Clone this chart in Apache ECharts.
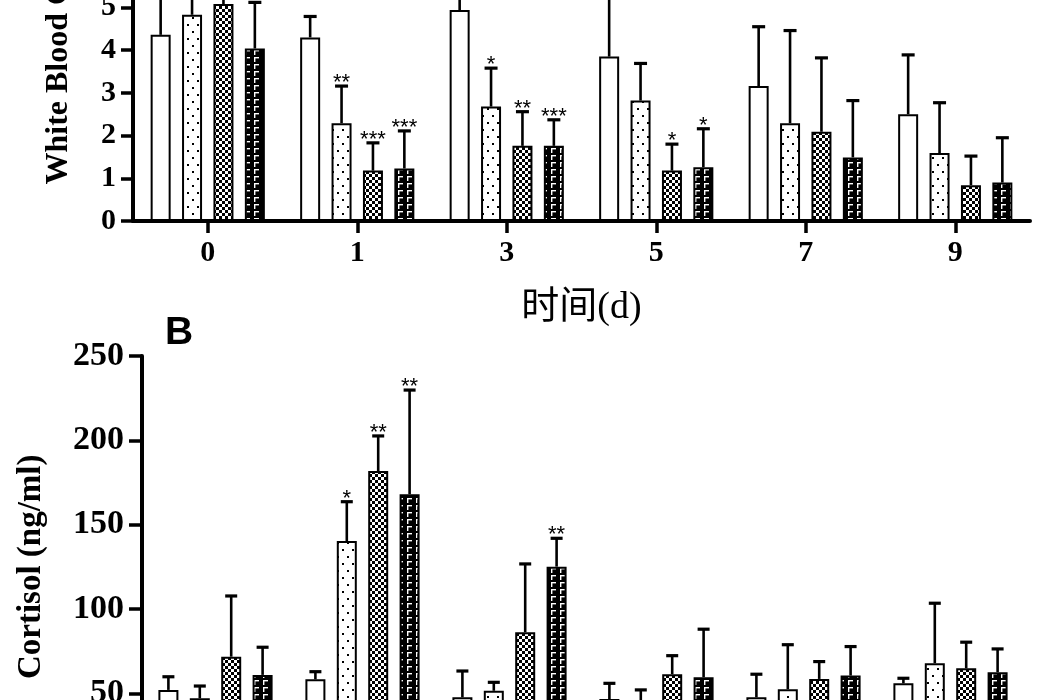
<!DOCTYPE html>
<html>
<head>
<meta charset="utf-8">
<script src="https://cdn.jsdelivr.net/npm/echarts@6/dist/echarts.min.js"></script>
<style>html,body{margin:0;padding:0;background:#fff;}#c{width:1049px;height:700px;}</style>
</head>
<body>
<div id="c"></div>
<script>
// ---- data ----
const days = ['0', '1', '3', '5', '7', '9'];
const groupNames = ['Group 1', 'Group 2', 'Group 3', 'Group 4'];

// Panel A: White Blood Cell (mean, upper error)
const wbcMean1 = [4.36, 4.30, 4.94, 3.85, 3.16, 2.50];
const wbcErr1  = [1.54, 0.49, 0.66, 1.65, 1.39, 1.39];
const wbcMean2 = [4.83, 2.29, 2.68, 2.82, 2.29, 1.59];
const wbcErr2  = [0.77, 0.87, 0.90, 0.87, 2.17, 1.18];
const wbcMean3 = [5.08, 1.18, 1.76, 1.18, 2.09, 0.84];
const wbcErr3  = [0.42, 0.65, 0.80, 0.62, 1.73, 0.68];
const wbcMean4 = [4.04, 1.23, 1.76, 1.26, 1.49, 0.90];
const wbcErr4  = [1.08, 0.88, 0.61, 0.90, 1.33, 1.05];
const wbcStars1 = ['', '', '', '', '', ''];
const wbcStars2 = ['', '**', '*', '', '', ''];
const wbcStars3 = ['', '***', '**', '*', '', ''];
const wbcStars4 = ['', '***', '***', '*', '', ''];

// Panel B: Cortisol (ng/ml)
const corMean1 = [52.0, 58.3, 47.6, 46.6, 47.6, 55.9];
const corErr1  = [7.8, 4.5, 15.6, 9.3, 13.7, 3.0];
const corMean2 = [47.0, 140.3, 51.5, 43.0, 52.4, 67.8];
const corErr2  = [7.3, 23.3, 5.0, 9.0, 26.4, 35.6];
const corMean3 = [71.7, 181.8, 86.2, 61.3, 58.5, 64.8];
const corErr3  = [36.0, 20.8, 40.5, 11.0, 10.3, 15.5];
const corMean4 = [60.9, 168.0, 125.1, 59.5, 60.5, 62.5];
const corErr4  = [16.4, 61.8, 16.8, 28.5, 17.2, 13.8];
const corStars1 = ['', '', '', '', '', ''];
const corStars2 = ['', '*', '', '', '', ''];
const corStars3 = ['', '**', '', '', '', ''];
const corStars4 = ['', '**', '**', '', '', ''];

const wbcTicks = [0, 10, 1];   // min, max, interval
const corTicks = [0, 250, 50];

// ---- patterns ----
function tile(w, h, draw) {
  const c = document.createElement('canvas');
  c.width = w; c.height = h;
  const g = c.getContext('2d');
  draw(g);
  return { image: c, repeat: 'repeat' };
}
const patWhite = '#ffffff';
const patDots = tile(10, 14, g => {
  g.fillStyle = '#fff'; g.fillRect(0, 0, 10, 14);
  g.fillStyle = '#000'; g.fillRect(2, 3, 2, 2); g.fillRect(7, 10, 2, 2);
});
const patCheck = tile(6, 6, g => {
  g.fillStyle = '#000'; g.fillRect(0, 0, 6, 6);
  g.fillStyle = '#fff'; g.fillRect(0, 0, 3, 3); g.fillRect(3, 3, 3, 3);
});
const patBrick = tile(9, 7, g => {
  g.fillStyle = '#000'; g.fillRect(0, 0, 9, 7);
  g.fillStyle = '#fff'; g.fillRect(2, 1, 5, 1.4); g.fillRect(2, 1, 1.4, 5);
});
const patterns = [patWhite, patDots, patCheck, patBrick];

const BAR_W = 20, BAR_GAP = 0.57;
const STEP = BAR_W * (1 + BAR_GAP);
const serifFont = '"Liberation Serif", "Times New Roman", serif';

function barSeries(k, data, axis) {
  return {
    type: 'bar', name: groupNames[k], data: data,
    xAxisIndex: axis, yAxisIndex: axis,
    barWidth: BAR_W, barGap: (BAR_GAP * 100) + '%',
    itemStyle: { color: patterns[k], borderColor: '#000', borderWidth: 2 },
    z: 3, silent: true
  };
}
function errSeries(k, means, errs, stars, axis, capW) {
  return {
    type: 'custom', xAxisIndex: axis, yAxisIndex: axis, z: 2, silent: true, clip: false,
    data: means.map((m, i) => [i, m, errs[i]]),
    renderItem: function (params, api) {
      const base = api.coord([api.value(0), api.value(1)]);
      const top = api.coord([api.value(0), api.value(1) + api.value(2)]);
      const x = base[0] + (k - 1.5) * STEP;
      const st = { stroke: '#000', lineWidth: 2.6 };
      const children = [
        { type: 'line', shape: { x1: x, y1: base[1], x2: x, y2: top[1] }, style: st },
        { type: 'line', shape: { x1: x - capW / 2, y1: top[1], x2: x + capW / 2, y2: top[1] }, style: { stroke: '#000', lineWidth: 3.2 } }
      ];
      const s = stars[params.dataIndex];
      if (s) {
        children.push({ type: 'text', style: { text: s, x: x, y: top[1] + 8, align: 'center', verticalAlign: 'bottom',
          font: '22px "Liberation Sans", Arial, sans-serif', fill: '#000' } });
      }
      return { type: 'group', children: children };
    }
  };
}

const axisLineStyle = { show: true, lineStyle: { color: '#000', width: 4 } };
const tickStyle = { show: true, length: 12, lineStyle: { color: '#000', width: 3.5 } };

const option = {
  backgroundColor: '#fff',
  animation: false,
  title: { text: 'B', left: 160, top: 309, textStyle: { fontFamily: '"Liberation Sans", Arial, sans-serif', fontWeight: 'bold', fontSize: 39, color: '#000' } },
  grid: [
    { left: 133, right: 19, top: -206, bottom: 479, containLabel: false, outerBoundsMode: 'none' },
    { left: 142, right: 25, top: 356, bottom: -77.6, containLabel: false, outerBoundsMode: 'none' }
  ],
  xAxis: [
    { type: 'category', gridIndex: 0, data: days, axisLine: axisLineStyle,
      axisTick: Object.assign({ alignWithLabel: true }, tickStyle),
      axisLabel: { margin: 17, fontFamily: serifFont, fontWeight: 'bold', fontSize: 30, color: '#000' },
      name: '时间(d)', nameLocation: 'middle', nameGap: 68,
      nameTextStyle: { fontFamily: '"Liberation Serif", "Noto Sans CJK SC", serif', fontSize: 38, color: '#000' } },
    { type: 'category', gridIndex: 1, data: days, axisLine: axisLineStyle,
      axisTick: Object.assign({ alignWithLabel: true }, tickStyle),
      axisLabel: { margin: 17, fontFamily: serifFont, fontWeight: 'bold', fontSize: 30, color: '#000' } }
  ],
  yAxis: [
    { type: 'value', gridIndex: 0, min: wbcTicks[0], max: wbcTicks[1], interval: wbcTicks[2],
      axisLine: axisLineStyle, axisTick: tickStyle, splitLine: { show: false },
      axisLabel: { margin: 17, fontFamily: serifFont, fontWeight: 'bold', fontSize: 30, color: '#000' },
      name: 'White Blood Cell (×10⁹/L)', nameLocation: 'middle', nameGap: 52,
      nameTextStyle: { fontFamily: serifFont, fontWeight: 'bold', fontSize: 32, color: '#000' } },
    { type: 'value', gridIndex: 1, min: corTicks[0], max: corTicks[1], interval: corTicks[2],
      axisLine: axisLineStyle, axisTick: Object.assign({}, tickStyle, { length: 13 }), splitLine: { show: false },
      axisLabel: { margin: 18, fontFamily: serifFont, fontWeight: 'bold', fontSize: 34, color: '#000' },
      name: 'Cortisol (ng/ml)', nameLocation: 'middle', nameGap: 94,
      nameTextStyle: { fontFamily: serifFont, fontWeight: 'bold', fontSize: 33, color: '#000' } }
  ],
  series: [
    barSeries(0, wbcMean1, 0), barSeries(1, wbcMean2, 0), barSeries(2, wbcMean3, 0), barSeries(3, wbcMean4, 0),
    errSeries(0, wbcMean1, wbcErr1, wbcStars1, 0, 13), errSeries(1, wbcMean2, wbcErr2, wbcStars2, 0, 13),
    errSeries(2, wbcMean3, wbcErr3, wbcStars3, 0, 13), errSeries(3, wbcMean4, wbcErr4, wbcStars4, 0, 13),
    barSeries(0, corMean1, 1), barSeries(1, corMean2, 1), barSeries(2, corMean3, 1), barSeries(3, corMean4, 1),
    errSeries(0, corMean1, corErr1, corStars1, 1, 12), errSeries(1, corMean2, corErr2, corStars2, 1, 12),
    errSeries(2, corMean3, corErr3, corStars3, 1, 12), errSeries(3, corMean4, corErr4, corStars4, 1, 12)
  ]
};
const chart = echarts.init(document.getElementById('c'), null, { renderer: 'canvas' });
chart.setOption(option);
</script>
</body>
</html>
